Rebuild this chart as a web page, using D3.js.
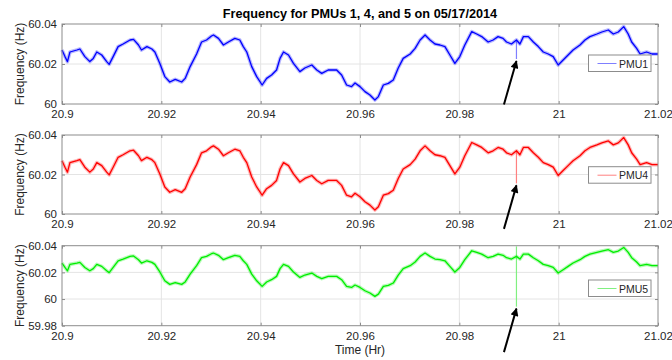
<!DOCTYPE html>
<html>
<head>
<meta charset="utf-8">
<script src="https://cdn.jsdelivr.net/npm/d3@7"></script>
<style>
  body { margin: 0; background: #fff; }
  svg { display: block; font-family: "Liberation Sans", Arial, sans-serif; }
  .tick text { fill: #262626; font-size: 11.5px; }
</style>
</head>
<body>
<svg id="chart" width="672" height="360"></svg>
<script>
// time axis (hours) and the common frequency trend
const timeHr = [20.9000, 20.9006, 20.9011, 20.9016, 20.9030, 20.9036, 20.9046, 20.9056, 20.9063, 20.9070,
  20.9080, 20.9090, 20.9095, 20.9103, 20.9113, 20.9123, 20.9137, 20.9144, 20.9154, 20.9160,
  20.9171, 20.9181, 20.9187, 20.9197, 20.9207, 20.9217, 20.9228, 20.9241, 20.9248, 20.9258,
  20.9271, 20.9281, 20.9291, 20.9301, 20.9305, 20.9315, 20.9325, 20.9335, 20.9348, 20.9358,
  20.9365, 20.9372, 20.9382, 20.9392, 20.9403, 20.9412, 20.9422, 20.9432, 20.9439, 20.9446,
  20.9456, 20.9466, 20.9479, 20.9489, 20.9503, 20.9513, 20.9523, 20.9536, 20.9553, 20.9563,
  20.9573, 20.9583, 20.9590, 20.9600, 20.9610, 20.9620, 20.9630, 20.9637, 20.9647, 20.9657,
  20.9667, 20.9677, 20.9687, 20.9701, 20.9711, 20.9721, 20.9731, 20.9741, 20.9751, 20.9761,
  20.9771, 20.9781, 20.9791, 20.9801, 20.9811, 20.9825, 20.9835, 20.9845, 20.9858, 20.9868,
  20.9878, 20.9888, 20.9895, 20.9905, 20.9915, 20.9922, 20.9929, 20.9939, 20.9949, 20.9959,
  20.9969, 20.9979, 20.9989, 20.9999, 21.0009, 21.0019, 21.0029, 21.0043, 21.0053, 21.0063,
  21.0077, 21.0087, 21.0100, 21.0110, 21.0120, 21.0131, 21.0140, 21.0147, 21.0157, 21.0164,
  21.0177, 21.0188, 21.0200];

const freqHz = [60.0270, 60.0237, 60.0212, 60.0260, 60.0270, 60.0275, 60.0237, 60.0212, 60.0228, 60.0260,
  60.0245, 60.0212, 60.0198, 60.0237, 60.0287, 60.0300, 60.0320, 60.0323, 60.0295, 60.0270,
  60.0287, 60.0275, 60.0260, 60.0203, 60.0137, 60.0110, 60.0123, 60.0110, 60.0128, 60.0187,
  60.0250, 60.0310, 60.0320, 60.0340, 60.0345, 60.0328, 60.0295, 60.0310, 60.0328, 60.0320,
  60.0287, 60.0260, 60.0187, 60.0137, 60.0095, 60.0128, 60.0145, 60.0170, 60.0228, 60.0260,
  60.0245, 60.0203, 60.0162, 60.0180, 60.0195, 60.0170, 60.0153, 60.0170, 60.0170, 60.0145,
  60.0095, 60.0087, 60.0105, 60.0087, 60.0062, 60.0045, 60.0020, 60.0037, 60.0095, 60.0103,
  60.0120, 60.0180, 60.0228, 60.0250, 60.0278, 60.0320, 60.0345, 60.0320, 60.0300, 60.0295,
  60.0287, 60.0245, 60.0203, 60.0237, 60.0295, 60.0362, 60.0350, 60.0337, 60.0310, 60.0320,
  60.0337, 60.0328, 60.0310, 60.0300, 60.0320, 60.0300, 60.0337, 60.0337, 60.0310, 60.0287,
  60.0260, 60.0250, 60.0237, 60.0195, 60.0220, 60.0245, 60.0270, 60.0295, 60.0320, 60.0337,
  60.0350, 60.0360, 60.0370, 60.0350, 60.0360, 60.0387, 60.0350, 60.0310, 60.0278, 60.0250,
  60.0260, 60.0250, 60.0250];

// the glitch marked by the arrows
const spikeTime = 20.9915;
const pmuNames = ['PMU1', 'PMU4', 'PMU5'];
const spikeLow = [60.0225, 60.0155, 59.9943];
const spikeHigh = [60.0320, 60.0320, 60.0395];

const xTicks = [20.9, 20.92, 20.94, 20.96, 20.98, 21, 21.02];
const yTicks = [[60, 60.02, 60.04], [60, 60.02, 60.04], [59.98, 60, 60.02, 60.04]];
const yDomains = [[60, 60.04], [60, 60.04], [59.98, 60.04]];

const colors = ['#0000ff', '#ff0000', '#00ee00'];
const lightColors = ['#7f7fff', '#ff8080', '#80f080'];

const left = 62;
const right = 658;
const tops = [24, 135, 245.7];
const bottoms = [104, 214, 325.7];

const svg = d3.select('#chart');

svg.append('defs')
  .append('marker')
  .attr('id', 'head')
  .attr('viewBox', '0 0 10 10')
  .attr('refX', 9)
  .attr('refY', 5)
  .attr('markerWidth', 4.5)
  .attr('markerHeight', 4)
  .attr('markerUnits', 'strokeWidth')
  .attr('orient', 'auto')
  .append('path')
  .attr('d', 'M0,0 L10,5 L0,10 z')
  .attr('fill', '#000')

const xscale = d3.scaleLinear()
  .domain([20.9, 21.02])
  .range([left, right])

const fmt = (d) => String(+d.toFixed(2));

pmuNames.forEach((name, k) => {
  const yscale = d3.scaleLinear()
    .domain(yDomains[k])
    .range([bottoms[k], tops[k]])

  const g = svg.append('g')

  // grid
  g.append('g')
    .selectAll('line')
    .data(xTicks.slice(1, -1))
    .enter()
    .append('line')
    .attr('x1', (d) => xscale(d))
    .attr('x2', (d) => xscale(d))
    .attr('y1', tops[k])
    .attr('y2', bottoms[k])
    .attr('stroke', '#e4e4e4')

  g.append('g')
    .selectAll('line')
    .data(yTicks[k].slice(1, -1))
    .enter()
    .append('line')
    .attr('x1', left)
    .attr('x2', right)
    .attr('y1', (d) => yscale(d))
    .attr('y2', (d) => yscale(d))
    .attr('stroke', '#e4e4e4')

  const series = timeHr.map((t, i) => [t, freqHz[i]]);

  const line = d3.line()
    .x((d) => xscale(d[0]))
    .y((d) => yscale(d[1]))

  // the single glitch sample, a thin light stroke
  g.append('path')
    .datum([[spikeTime, spikeHigh[k]], [spikeTime, spikeLow[k]]])
    .attr('d', line)
    .attr('stroke', lightColors[k])
    .attr('stroke-width', 1.2)

  g.append('path')
    .datum(series)
    .attr('d', line)
    .attr('fill', 'none')
    .attr('stroke', colors[k])
    .attr('stroke-opacity', 0.28)
    .attr('stroke-width', 3.6)
    .attr('stroke-linejoin', 'round')

  g.append('path')
    .datum(series)
    .attr('d', line)
    .attr('fill', 'none')
    .attr('stroke', colors[k])
    .attr('stroke-width', 1.3)
    .attr('stroke-linejoin', 'round')

  // axes, MATLAB style: inward ticks on all sides, box
  const bottomAxis = d3.axisBottom(xscale)
    .tickValues(xTicks)
    .tickFormat(fmt)
    .tickSizeInner(-3)
    .tickSizeOuter(0)
    .tickPadding(6)
  g.append('g')
    .attr('transform', `translate(0, ${bottoms[k]})`)
    .call(bottomAxis)

  g.append('g')
    .attr('transform', `translate(0, ${tops[k]})`)
    .call(d3.axisTop(xscale).tickValues(xTicks).tickFormat('').tickSizeInner(-3).tickSizeOuter(0))

  g.append('g')
    .attr('transform', `translate(${left}, 0)`)
    .call(d3.axisLeft(yscale).tickValues(yTicks[k]).tickFormat(fmt).tickSizeInner(-3).tickSizeOuter(0).tickPadding(5))

  g.append('g')
    .attr('transform', `translate(${right}, 0)`)
    .call(d3.axisRight(yscale).tickValues(yTicks[k]).tickFormat('').tickSizeInner(-3).tickSizeOuter(0))

  g.selectAll('.domain').remove()
  g.selectAll('.tick line').attr('stroke', '#8c8c8c')

  g.append('rect')
    .attr('x', left)
    .attr('y', tops[k])
    .attr('width', right - left)
    .attr('height', bottoms[k] - tops[k])
    .attr('fill', 'none')
    .attr('stroke', '#8c8c8c')

  g.append('text')
    .text('Frequency (Hz)')
    .attr('transform', `translate(24, ${(tops[k] + bottoms[k]) / 2}) rotate(-90)`)
    .attr('text-anchor', 'middle')
    .attr('font-size', 12)
    .attr('fill', '#262626')

  // legend
  const ly = [55, 166.7, 280][k];
  const legend = g.append('g')
    .attr('transform', `translate(588.5, ${ly})`)
  legend.append('rect')
    .attr('width', 62.5)
    .attr('height', 16.5)
    .attr('fill', '#fff')
    .attr('stroke', '#8c8c8c')
  legend.append('line')
    .attr('x1', 9)
    .attr('x2', 28)
    .attr('y1', 8.5)
    .attr('y2', 8.5)
    .attr('stroke', lightColors[k])
  legend.append('text')
    .text(name)
    .attr('x', 30.5)
    .attr('y', 12.5)
    .attr('font-size', 10.5)
    .attr('fill', '#262626')

  // arrow pointing at the glitch
  const tipX = xscale(spikeTime);
  const tipY = yscale(spikeLow[k]) + 2;
  svg.append('line')
    .attr('x1', tipX - 12.5)
    .attr('y1', tipY + 43.5)
    .attr('x2', tipX)
    .attr('y2', tipY)
    .attr('stroke', '#000')
    .attr('stroke-width', 2)
    .attr('marker-end', 'url(#head)')
});

svg.append('text')
  .text('Frequency for PMUs 1, 4, and 5 on 05/17/2014')
  .attr('x', (left + right) / 2)
  .attr('y', 17.5)
  .attr('text-anchor', 'middle')
  .attr('font-size', 12.7)
  .attr('font-weight', 'bold')
  .attr('fill', '#000')

svg.append('text')
  .text('Time (Hr)')
  .attr('x', (left + right) / 2)
  .attr('y', 354)
  .attr('text-anchor', 'middle')
  .attr('font-size', 12)
  .attr('fill', '#262626')
</script>
</body>
</html>
